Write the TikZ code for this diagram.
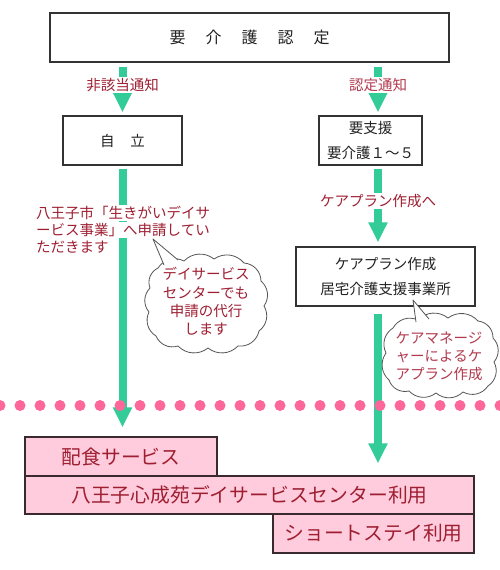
\documentclass[tikz,border=0pt]{standalone}
\usepackage{fontspec}
\setmainfont{Noto Sans CJK JP}
\usetikzlibrary{arrows.meta,calc}
\definecolor{flowgreen}{HTML}{33CC99}
\definecolor{dotpink}{HTML}{FF6699}
\definecolor{redtext}{HTML}{9E1F32}
\definecolor{redlight}{HTML}{B23A4E}
\definecolor{pinkfill}{HTML}{FFCCDD}
\definecolor{pinkdraw}{HTML}{3A2A2E}
\definecolor{boxdraw}{HTML}{333333}
\definecolor{boxtext}{HTML}{222222}
\definecolor{cloudgray}{HTML}{555555}
\begin{document}
\begin{tikzpicture}[x=1pt,y=-1pt,
  wbox/.style={draw=boxdraw, line width=1.2pt, fill=white, inner sep=0pt, text=boxtext, align=center, font=\fontsize{14.5}{24.5}\selectfont},
  pbox/.style={draw=pinkdraw, line width=1.2pt, fill=pinkfill, inner sep=0pt, text=redtext, font=\fontsize{19.8}{24}\selectfont},
  flow/.style={draw=flowgreen, line width=8pt, -{Triangle[width=18pt,length=20pt]}},
  lbl/.style={fill=white, inner sep=1.5pt, text=redtext, font=\fontsize{14.5}{18}\selectfont},
  bubble/.style={draw=cloudgray, fill=white, line width=0.8pt, line join=round, every to/.style={bend left=42}},
  btext/.style={align=center, inner sep=0pt, font=\fontsize{14.5}{18.3}\selectfont},
  cloudline/.style={draw=cloudgray, line width=0.8pt, line join=round}
]
\useasboundingbox (0,0) rectangle (500,570);
\coordinate (colR) at (378,0);

% boxes
\node[wbox, minimum width=399pt, minimum height=49pt, font=\fontsize{16}{20}\selectfont] (top) at (249.5,37.5)
  {要\hspace{20pt}介\hspace{20pt}護\hspace{20pt}認\hspace{20pt}定};
\node[wbox, minimum width=119pt, minimum height=49pt] (jiritsu) at (122.5,140.5) {自\hspace{16pt}立};
\node[wbox, minimum width=103pt, minimum height=49pt] (yoshien) at (370.5,140.5) {要支援\\要介護１～５};
\node[wbox, minimum width=179pt, minimum height=59pt] (plan) at (385.5,276.5) {ケアプラン作成\\居宅介護支援事業所};

\node[pbox, minimum width=192pt, minimum height=39pt] (haishoku) at (121,456.5) {配食サービス};
\node[pbox, minimum width=449pt, minimum height=38pt] (day) at (249.5,495) {八王子心成苑デイサービスセンター利用};
\node[pbox, minimum width=201pt, minimum height=39pt] (short) at (373.5,533.5) {ショートステイ利用};

% arrows
\draw[flow, shorten <=4pt, shorten >=3pt] (top.south -| jiritsu.north) -- (jiritsu.north);
\draw[flow, shorten <=4pt, shorten >=3pt] (top.south -| colR) -- (yoshien.north -| colR);
\draw[flow, shorten <=3pt, shorten >=4pt] (yoshien.south -| colR) -- (plan.north -| colR);
\draw[flow, shorten <=3pt, shorten >=9pt] (jiritsu.south) -- (haishoku.north -| jiritsu.south);
\draw[flow, shorten <=7pt, shorten >=12pt] (plan.south -| colR) -- (day.north -| colR);

% arrow labels
\node[lbl] (l1) at (122.5,85) {非該当通知};
\node[lbl, text=redlight] (l2) at (378,85) {認定通知};
\node[lbl] (l3) at (378,201) {ケアプラン作成へ};
\node[lbl, anchor=west] (l4a) at (34.5,213) {八王子市「生きがいデイサ};
\node[lbl, anchor=west] (l4b) at (34.5,230) {ービス事業」へ申請してい};
\node[lbl, anchor=west] (l4c) at (34.5,247) {ただきます};

% bubble 1
\path[bubble] (158,268) to (184,261) to (214,259) to (244,263) to (261,281) to (264,306)
  to (259,331) to (238,346) to (208,348) to (178,346) to (156,336) to (149,312) to (150,288) to (158,268) -- cycle;
\coordinate (p1t) at (153,239);
\coordinate (p1a) at (164,265);
\coordinate (p1b) at (178,260);
\fill[white] (p1t) -- ($(p1t)!1.35!(p1a)$) -- ($(p1t)!1.35!(p1b)$) -- cycle;
\draw[cloudline] (p1a) -- (p1t) -- (p1b);
\node[btext, text=redtext] (c1t) at (206,301.5) {デイサービス\\センターでも\\申請の代行\\します};

% bubble 2
\path[bubble] (393,328) to (418,320) to (448,318) to (478,321) to (493,338) to (494,362)
  to (488,386) to (463,392) to (436,393) to (409,391) to (389,380) to (386,353) to (393,328) -- cycle;
\coordinate (p2t) at (413,300);
\coordinate (p2a) at (416,322);
\coordinate (p2b) at (429,319);
\fill[white] (p2t) -- ($(p2t)!1.35!(p2a)$) -- ($(p2t)!1.35!(p2b)$) -- cycle;
\draw[cloudline] (p2a) -- (p2t) -- (p2b);
\node[btext, text=redlight] (c2t) at (439,356.5) {ケアマネージ\\ャーによるケ\\アプラン作成};

% dotted divider
\foreach \i in {0,...,25} \fill[dotpink] (\i*20,405.5) circle (5.5pt);
\end{tikzpicture}
\end{document}
